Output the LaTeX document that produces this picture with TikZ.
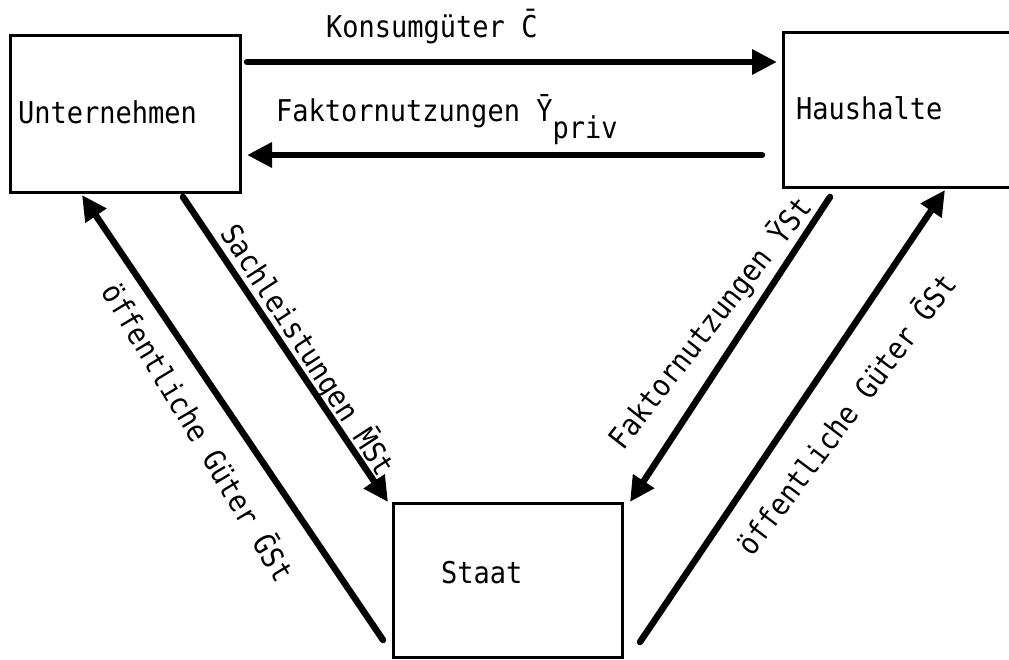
\documentclass[tikz,border=0pt]{standalone}
\usepackage{fontspec}
\newfontfamily\typewriter[FakeStretch=0.9]{DejaVu Sans Mono}
\usetikzlibrary{arrows.meta}

\tikzset{
  sector/.style={draw, rectangle, line width=3pt, anchor=north west, outer sep=0pt,
    align=left, font=\typewriter\fontsize{30}{32}\selectfont},
  flow/.style={line width=6.5pt, line cap=round, -{Triangle[length=25pt, width=24pt]}},
  flowlabel/.style={font=\typewriter\fontsize{30}{32}\selectfont, inner sep=0pt}
}

\begin{document}
\begin{tikzpicture}[x=1pt, y=-1pt]
\clip (0,0) rectangle (1009,659);

% The three sectors
\node [sector, minimum height=157pt, inner xsep=8pt, text width=214pt, text depth=3pt] (unternehmen) at (10,35) {Unternehmen};
\node [sector, minimum height=155pt, inner xsep=13pt, text width=234pt, text depth=3pt] (haushalte) at (783,32) {Haushalte};
\node [sector, minimum height=154pt, inner xsep=48pt, text width=133pt, text depth=16pt] (staat) at (393,503) {Staat};

% Flows between Unternehmen and Haushalte
\draw [flow] ([shift={(7,27)}]unternehmen.north east) -- ([shift={(-6,30)}]haushalte.north west);
\draw [flow] ([shift={(-21,-32)}]haushalte.south west) -- ([shift={(7,-37)}]unternehmen.south east);
\node [flowlabel, anchor=base west] (konsum) at (326,37) {Konsumgüter \=C};
\node [flowlabel, anchor=base west] (faktorpriv) at (276,121) {Faktornutzungen \=Y\raisebox{-17pt}{priv}};

% Flows to and from the Staat
\draw [flow] ([shift={(-10,-17)}]staat.south west) -- ([shift={(72,3)}]unternehmen.south west);
\draw [flow] ([shift={(173,5)}]unternehmen.south west) -- ([shift={(-5,-1)}]staat.north west);
\draw [flow] ([shift={(47,10)}]haushalte.south west) -- ([shift={(8,-1)}]staat.north east);
\draw [flow] ([shift={(18,-15)}]staat.south east) -- ([shift={(162,3)}]haushalte.south west);

\node [flowlabel, rotate=-57] (sachleist) at (308,350) {Sachleistungen \=MSt};
\node [flowlabel, rotate=-59] (oeffunt) at (200,431) {öffentliche Güter \=GSt};
\node [flowlabel, rotate=52] (faktorst) at (710,323) {Faktornutzungen \=YSt};
\node [flowlabel, rotate=53] (oeffhaus) at (845,413) {öffentliche Güter \=GSt};
\end{tikzpicture}
\end{document}
